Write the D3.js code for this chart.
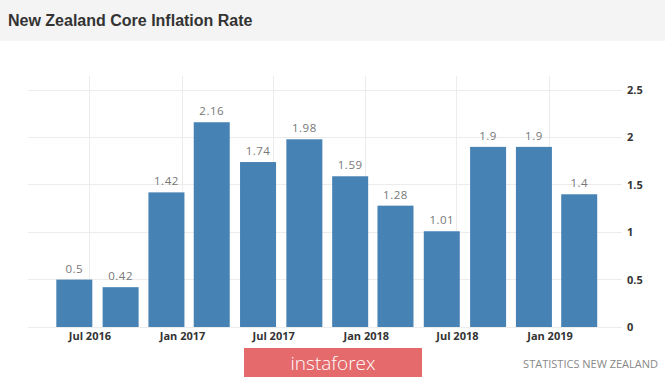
<!DOCTYPE html>
<html lang="en">
  <head>
    <meta charset="utf-8">
    <title>New Zealand Core Inflation Rate</title>
    <style>
    body { margin: 0; background: #fff; }
    .axis path, .axis line { display: none; }
    .axis text { font: bold 11px "Open Sans", sans-serif; fill: #333; }
    .grid line { stroke: #ececec; shape-rendering: crispEdges; }
    </style>
    <script type="text/javascript" src="https://cdn.jsdelivr.net/npm/d3@7/dist/d3.min.js"></script>
  </head>
  <body>
    <script type="text/javascript">

      // Données trimestrielles (début de mois du trimestre)
      var quarters = ["2016-06", "2016-09", "2016-12", "2017-03", "2017-06", "2017-09",
                      "2017-12", "2018-03", "2018-06", "2018-09", "2018-12", "2019-03"];
      var values = [0.5, 0.42, 1.42, 2.16, 1.74, 1.98, 1.59, 1.28, 1.01, 1.9, 1.9, 1.4];
      var xTicks = ["2016-07", "2017-01", "2017-07", "2018-01", "2018-07", "2019-01"];
      var yTicks = [0, 0.5, 1, 1.5, 2, 2.5];

      var width = 665, height = 379;
      var parse = d3.timeParse("%Y-%m");
      var data = quarters.map((q, i) => ({ date: parse(q), value: values[i] }));

      var svg = d3.select("body").append("svg")
          .attr("width", width)
          .attr("height", height);

      // bandeau du titre
      svg.append("rect").attr("width", width).attr("height", 41).attr("fill", "#f4f4f4");
      svg.append("text")
          .attr("x", 8).attr("y", 26)
          .attr("font-family", "Liberation Sans, Arial, sans-serif")
          .attr("font-weight", "bold")
          .attr("font-size", 16)
          .attr("fill", "#333")
          .text("New Zealand Core Inflation Rate");

      var xScale = d3.scaleTime()
          .domain([parse("2016-03"), d3.timeDay.offset(parse("2019-05"), 24)])
          .range([28, 622]);
      var yScale = d3.scaleLinear().domain([0, 2.5]).range([327, 90]);

      // grilles
      var grid = svg.append("g").attr("class", "grid");
      grid.selectAll(".h").data(yTicks).enter().append("line")
          .attr("x1", 28).attr("x2", 622)
          .attr("y1", d => yScale(d)).attr("y2", d => yScale(d));
      grid.selectAll(".v").data(xTicks).enter().append("line")
          .attr("x1", d => xScale(parse(d))).attr("x2", d => xScale(parse(d)))
          .attr("y1", 76).attr("y2", 327);

      var barW = 36;
      svg.selectAll("rect.bar").data(data).enter().append("rect")
          .attr("class", "bar")
          .attr("x", d => xScale(d.date) - barW / 2)
          .attr("y", d => yScale(d.value))
          .attr("width", barW)
          .attr("height", d => yScale(0) - yScale(d.value))
          .attr("fill", "#4682b4");

      svg.selectAll("text.val").data(data).enter().append("text")
          .attr("class", "val")
          .attr("x", d => xScale(d.date))
          .attr("y", d => yScale(d.value) - 7)
          .attr("text-anchor", "middle")
          .attr("font-family", "Open Sans, sans-serif")
          .attr("font-size", 11.5)
          .attr("letter-spacing", 0.5)
          .attr("fill", "#777")
          .text(d => d.value);

      svg.append("g")
          .attr("class", "axis")
          .attr("transform", "translate(0,327)")
          .call(d3.axisBottom(xScale)
            .tickValues(xTicks.map(parse))
            .tickFormat(d3.timeFormat("%b %Y"))
            .tickSize(0).tickPadding(5));

      svg.append("g")
          .attr("class", "axis")
          .attr("transform", "translate(624,0)")
          .call(d3.axisRight(yScale).tickValues(yTicks).tickFormat(d => d).tickSize(0).tickPadding(3));

      // logo et source
      svg.append("rect")
          .attr("x", 244).attr("y", 348).attr("width", 178).attr("height", 29)
          .attr("fill", "#e46a6c");
      svg.append("text")
          .attr("x", 333).attr("y", 370)
          .attr("text-anchor", "middle")
          .attr("font-family", "Open Sans, sans-serif")
          .attr("font-weight", 300)
          .attr("font-size", 19)
          .attr("fill", "#fff")
          .text("instaforex");
      svg.append("text")
          .attr("x", 658).attr("y", 368)
          .attr("text-anchor", "end")
          .attr("font-family", "Open Sans, sans-serif")
          .attr("font-size", 11)
          .attr("fill", "#888")
          .text("STATISTICS NEW ZEALAND");

    </script>
  </body>
</html>
